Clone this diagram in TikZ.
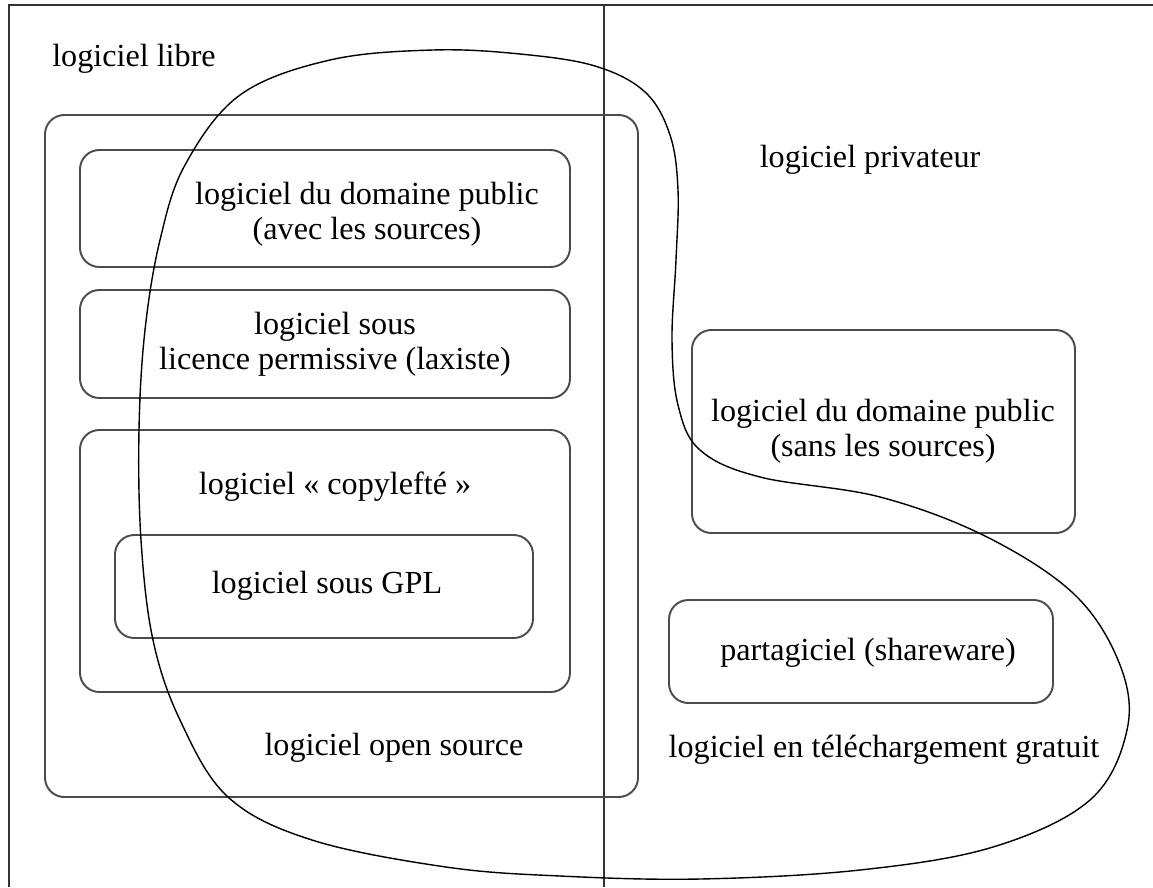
\documentclass[tikz,border=0pt]{standalone}
\usepackage{fontspec}
\setmainfont{Liberation Serif}
\begin{document}
\begin{tikzpicture}[x=0.02cm, y=-0.02cm,
    bord/.style={draw=black!80, line width=1.1pt},
    cadre/.style={draw=black!70, line width=1.1pt, rounded corners=11pt},
    contour/.style={draw=black, line width=0.8pt},
    etiquette/.style={font=\fontsize{18.3}{20}\selectfont, align=center, inner sep=0pt}]
    \useasboundingbox (0,0) rectangle (1153,887);

    % --- Cadre et separation ---
    \draw[bord] (1153,5) -- (9,5) -- (9,887);
    \draw[bord] (604,5) -- (604,887);

    % --- Logiciel libre (gauche) ---
    \node[etiquette] (libre) at (134,59) {logiciel libre};
    \draw[cadre] (45,115) rectangle (638,797);
    \node[etiquette] (opensource) at (394,748) {logiciel open source};

    \draw[cadre] (80,150) rectangle (570,267);
    \node[etiquette] (avecsources) at (367,214) {logiciel du domaine public\\(avec les sources)};

    \draw[cadre] (80,290) rectangle (570,398);
    \node[etiquette] (permissive) at (335,344) {logiciel sous\\licence permissive (laxiste)};

    \draw[cadre] (80,430) rectangle (570,692);
    \node[etiquette] (copyleft) at (335,487) {logiciel «~copylefté~»};

    \draw[cadre] (115,535) rectangle (533,638);
    \node[etiquette] (gpl) at (327,586) {logiciel sous GPL};

    % --- Logiciel privateur (droite) ---
    \node[etiquette] (privateur) at (870,160) {logiciel privateur};

    \draw[cadre] (692,330) rectangle (1075,533);
    \node[etiquette] (sanssources) at (883,431) {logiciel du domaine public\\(sans les sources)};

    \draw[cadre] (669,600) rectangle (1053,703);
    \node[etiquette] (partagiciel) at (868,653) {partagiciel (shareware)};

    \node[etiquette] (gratuit) at (884,750) {logiciel en téléchargement gratuit};

    % --- Contour : telechargement gratuit ---
    \draw[contour] plot[smooth cycle, tension=0.6] coordinates {
        (433,50) (520,54) (595,66) (645,92) (670,135) (678,190) (676,260)
        (672,340) (678,405) (700,450) (760,477) (880,497) (987,537)
        (1075,595) (1120,665) (1127,730) (1090,800) (993,847) (860,870)
        (700,879) (560,876) (446,867) (312,840) (228,797) (180,720)
        (153,640) (141,540) (139,430) (145,330) (160,240) (185,165)
        (240,95) (330,60)};
\end{tikzpicture}
\end{document}
